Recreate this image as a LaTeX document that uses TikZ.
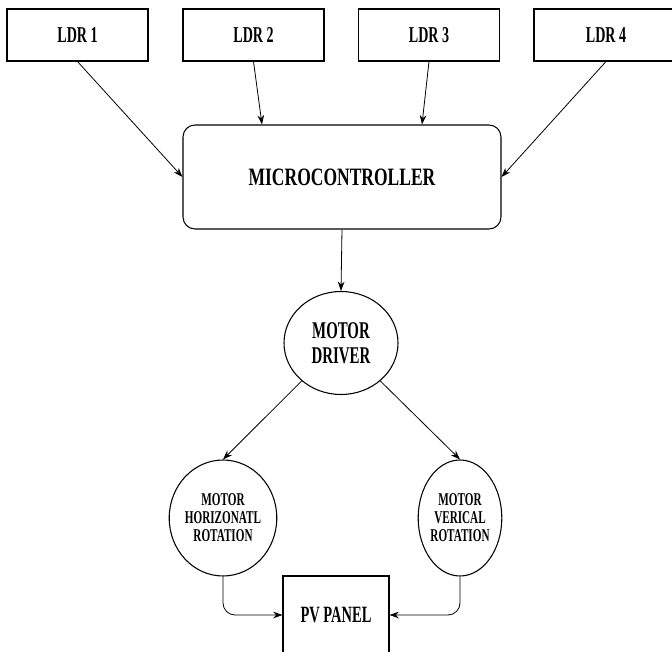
\documentclass[tikz,border=0pt]{standalone}
\usepackage{fontspec}
\setmainfont{Liberation Serif}[FakeStretch=0.62]
\newfontfamily\widerserif{Liberation Serif}[FakeStretch=0.7]
\usetikzlibrary{arrows.meta,shapes.geometric}

\tikzset{
  box/.style={draw, line width=0.8pt, inner sep=0pt, align=center},
  ldrbox/.style={box, minimum width=105.75pt, minimum height=39pt,
    font=\fontsize{17pt}{19pt}\selectfont\bfseries},
  oval/.style={draw, ellipse, line width=0.8pt, inner sep=0pt, align=center},
  arr/.style={line width=0.6pt, -{Stealth[length=7pt,width=5pt]}}
}

\begin{document}
\begin{tikzpicture}[x=0.75pt,y=-0.75pt]
  \clip (0,0) rectangle (672,652);

  % light sensors
  \node[ldrbox] (l1) at (77.5,35) {LDR 1};
  \node[ldrbox] (l2) at (253.5,35) {LDR 2};
  \node[ldrbox] (l3) at (429,35) {LDR 3};
  \node[ldrbox, minimum width=108pt] (l4) at (606,35) {LDR 4};

  % controller
  \node[box, rounded corners=9pt, minimum width=238.5pt, minimum height=78pt,
        font=\widerserif\fontsize{18.75pt}{22pt}\selectfont\bfseries] (mc) at (342,177) {MICROCONTROLLER};

  % driver and motors
  \node[oval, minimum width=85.5pt, minimum height=77.25pt,
        font=\fontsize{18pt}{18.75pt}\selectfont\bfseries] (md) at (341,343) {MOTOR\\DRIVER};
  \node[oval, minimum width=60pt, minimum height=87pt,
        font=\fontsize{13.5pt}{13.5pt}\selectfont\bfseries] (hr) at (223,518) {MOTOR\\HORIZONATL\\ROTATION};
  \node[oval, minimum width=60pt, minimum height=87pt,
        font=\fontsize{13.5pt}{13.5pt}\selectfont\bfseries] (vr) at (460,518) {MOTOR\\VERICAL\\ROTATION};

  % panel
  \node[box, minimum width=79.5pt, minimum height=58.5pt,
        font=\fontsize{17.5pt}{19pt}\selectfont\bfseries] (pv) at (336,615) {PV PANEL};

  % connections
  \draw[arr] (l1.south) -- (mc.west);
  \draw[arr] (l2.south) -- ([xshift=-60pt]mc.north);
  \draw[arr] (l3.south) -- ([xshift=60pt]mc.north);
  \draw[arr] (l4.south) -- (mc.east);
  \draw[arr] (mc.south) -- (md.north);
  \draw[arr] (md.224) -- (hr.north);
  \draw[arr] (md.316) -- (vr.north);
  \draw[arr, rounded corners=9pt] (hr.south) |- (pv.west);
  \draw[arr, rounded corners=9pt] (vr.south) |- (pv.east);
\end{tikzpicture}
\end{document}
